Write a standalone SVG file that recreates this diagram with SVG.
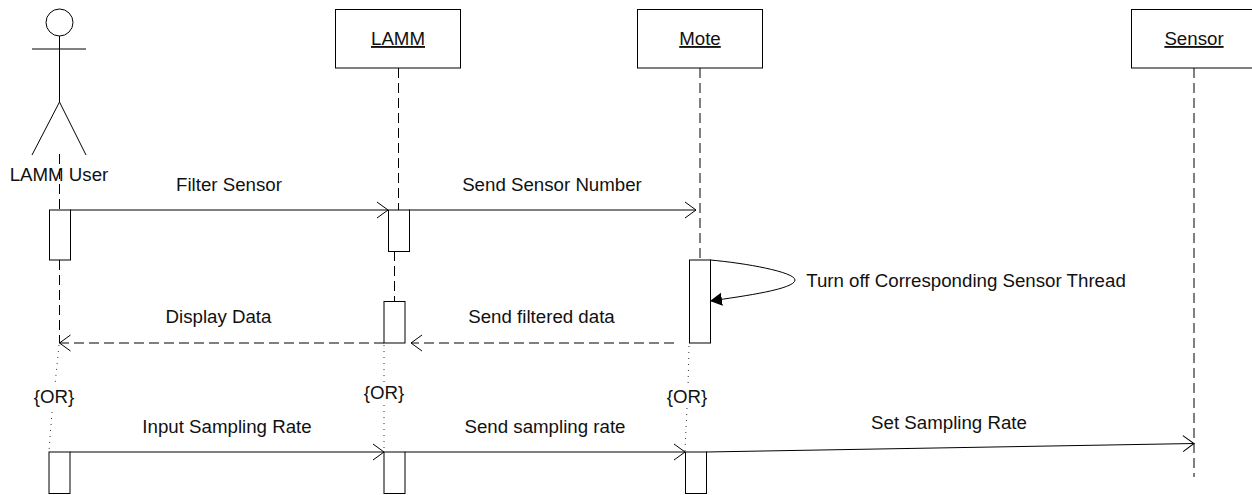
<svg xmlns="http://www.w3.org/2000/svg" width="1252" height="495" viewBox="0 0 1252 495">
<defs>
<marker id="open" markerUnits="userSpaceOnUse" markerWidth="14" markerHeight="20" refX="11.5" refY="10" orient="auto"><path d="M0.5 2 L11.5 10 L0.5 18" fill="none" stroke="#000" stroke-width="1"/></marker>
<marker id="filled" markerUnits="userSpaceOnUse" markerWidth="15" markerHeight="15" refX="12" refY="6.500" orient="auto"><path d="M0 0 L12 6.500 L0 13 Z" fill="#000"/></marker>
</defs>
<style>
rect{fill:#fff;stroke:#000;stroke-width:1}
line,path.c{fill:none;stroke:#000;stroke-width:1}
.life{stroke-dasharray:10 5}
.dot{stroke-dasharray:1 5;stroke:#333}
.msg{marker-end:url(#open)}
text{font-family:"Liberation Sans",Arial,sans-serif;font-size:18.7px;fill:#111;text-anchor:middle}
.u{text-decoration:underline}
</style>
<g id="connectors">
<line class="life" x1="59.5" y1="154" x2="59.5" y2="210"/>
<line class="life" x1="59.5" y1="260" x2="59.5" y2="343"/>
<line class="life" x1="398.5" y1="68" x2="398.5" y2="210"/>
<line class="life" x1="394.5" y1="251" x2="394.5" y2="301"/>
<line class="life" x1="700" y1="68" x2="700" y2="260"/>
<line class="life" x1="1194" y1="68" x2="1194" y2="477"/>
<line class="dot" x1="59" y1="345" x2="55" y2="385"/>
<line class="dot" x1="52" y1="412" x2="49" y2="451"/>
<line class="dot" x1="384" y1="345" x2="384" y2="383"/>
<line class="dot" x1="384" y1="405" x2="384" y2="451"/>
<line class="dot" x1="689" y1="346" x2="688" y2="388"/>
<line class="dot" x1="687" y1="408" x2="685" y2="451"/>
<line class="msg" x1="70" y1="210" x2="388" y2="210"/>
<line class="msg" x1="409" y1="210" x2="696" y2="210"/>
<line class="msg life" x1="674" y1="343" x2="411" y2="343"/>
<line class="msg life" x1="384" y1="343" x2="59.5" y2="343"/>
<line class="msg" x1="70" y1="452" x2="384" y2="452"/>
<line class="msg" x1="405" y1="452" x2="685" y2="452"/>
<line class="msg" x1="706" y1="452" x2="1194" y2="443.5"/>
<path class="c" d="M710 260 C745 263 795 272 795 280 C795 289 745 296 710 301" marker-end="url(#filled)"/>
</g>
<g id="lamm-user">
<circle cx="59.5" cy="22.5" r="13.5" fill="#fff" stroke="#000"/>
<line x1="32" y1="49" x2="86" y2="49"/>
<line x1="59.5" y1="36" x2="59.5" y2="102"/>
<line x1="59.5" y1="102" x2="32" y2="155"/>
<line x1="59.5" y1="102" x2="86" y2="155"/>
<text x="59" y="181">LAMM User</text>
</g>
<g id="lamm"><rect x="335.5" y="9.5" width="125" height="58.5"/><text class="u" x="398" y="45">LAMM</text></g>
<g id="mote"><rect x="637.5" y="9.5" width="125" height="58.5"/><text class="u" x="700" y="45">Mote</text></g>
<g id="sensor"><rect x="1131.5" y="9.5" width="125" height="58.5"/><text class="u" x="1194" y="45">Sensor</text></g>
<g id="activations">
<rect x="49.5" y="210" width="21" height="50"/>
<rect x="388.5" y="210" width="21" height="41.5"/>
<rect x="384" y="301.5" width="21" height="41.5"/>
<rect x="689.5" y="260" width="21" height="83"/>
<rect x="49" y="452" width="21" height="41.5"/>
<rect x="384" y="452" width="21" height="41.5"/>
<rect x="685.5" y="452" width="21" height="41.5"/>
</g>
<g id="labels">
<text x="229" y="191">Filter Sensor</text>
<text x="552" y="191">Send Sensor Number</text>
<text x="966" y="287">Turn off Corresponding Sensor Thread</text>
<text x="218.500" y="323">Display Data</text>
<text x="541.500" y="323">Send filtered data</text>
<text x="54" y="403">{OR}</text>
<text x="384" y="399">{OR}</text>
<text x="687" y="403">{OR}</text>
<text x="227" y="433">Input Sampling Rate</text>
<text x="545" y="433">Send sampling rate</text>
<text x="949" y="429">Set Sampling Rate</text>
</g>
</svg>
